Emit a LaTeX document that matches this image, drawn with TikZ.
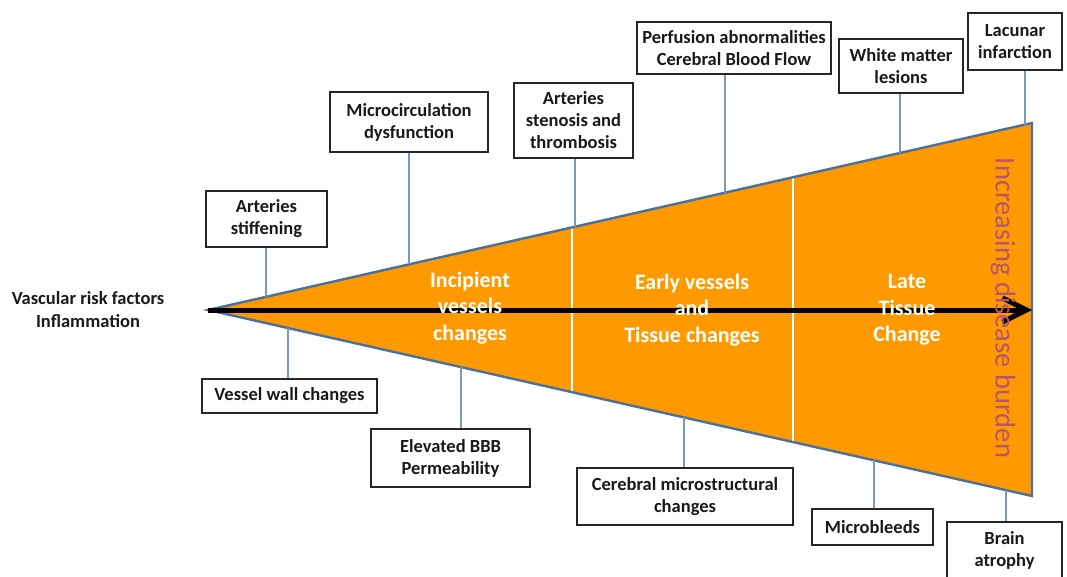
\documentclass[tikz,border=0pt]{standalone}
\usepackage{fontspec}
\setmainfont{Carlito}
\usetikzlibrary{calc,arrows.meta}
\definecolor{wedge}{RGB}{255,153,0}
\definecolor{wedgeedge}{RGB}{74,112,160}
\definecolor{connline}{RGB}{124,152,190}
\definecolor{burden}{RGB}{184,85,110}
\tikzset{
  labelbox/.style={draw=black!85, line width=1.1pt, fill=white, align=center,
    inner sep=0pt, text=black!90, font=\bfseries\fontsize{18.5}{22}\selectfont},
  conn/.style={draw=connline, line width=1.8pt},
  stage/.style={align=center, text=white, font=\bfseries\fontsize{22}{26.5}\selectfont},
  divider/.style={draw=white, line width=1.3pt}
}
\begin{document}
\begin{tikzpicture}[x=1pt,y=-1pt]
\useasboundingbox (0,0) rectangle (1067,577);
% wedge corners
\coordinate (A) at (208,310);
\coordinate (TR) at (1032,123);
\coordinate (BR) at (1032,496);
\coordinate (E) at (1032,310);
\fill[wedge] (A) -- (TR) -- (BR) -- cycle;
% stage dividers
\coordinate (d1t) at ($(A)!{(572-208)/824}!(TR)$);
\coordinate (d1b) at ($(A)!{(572-208)/824}!(BR)$);
\coordinate (d2t) at ($(A)!{(793-208)/824}!(TR)$);
\coordinate (d2b) at ($(A)!{(793-208)/824}!(BR)$);
\draw[divider] (d1t) -- (d1b);
\draw[divider] (d2t) -- (d2b);
\draw[wedgeedge, line width=2.4pt, line join=miter] (A) -- (TR) -- (BR) -- cycle;
% main arrow
\draw[line width=5pt, -{Straight Barb[length=24pt,width=24pt,line width=5pt]}] (A) -- (E);

% stage labels
\node[stage] (s1) at (470,308) {Incipient\\vessels\\changes};
\node[stage] (s2) at (692,310) {Early vessels\\and\\Tissue changes};
\node[stage] (s3) at (907,310) {Late\\Tissue\\Change};
\node[rotate=-90, text=burden, font=\fontsize{28.5}{32}\selectfont] (burden) at (1003,308) {Increasing disease burden};

\node[align=center, text=black!90, font=\bfseries\fontsize{18.5}{23}\selectfont] (risk) at (88,310) {Vascular risk factors\\Inflammation};

% upper labels
\node[labelbox, minimum width=121pt, minimum height=56pt] (stiff) at (266.5,219) {Arteries\\stiffening};
\node[labelbox, minimum width=158pt, minimum height=60pt] (micro) at (409,122) {Microcirculation\\dysfunction};
\node[labelbox, minimum width=119pt, minimum height=75pt] (sten) at (573.5,120.5) {Arteries\\stenosis and\\thrombosis};
\node[labelbox, minimum width=194pt, minimum height=52pt] (perf) at (734,48) {Perfusion abnormalities\\Cerebral Blood Flow};
\node[labelbox, minimum width=124pt, minimum height=54pt] (wml) at (901,66) {White matter\\lesions};
\node[labelbox, minimum width=94pt, minimum height=57pt] (lac) at (1015,41.5) {Lacunar\\infarction};

% lower labels
\node[labelbox, minimum width=175pt, minimum height=34pt] (vwall) at (289.5,396) {Vessel wall changes};
\node[labelbox, minimum width=159pt, minimum height=58pt] (bbb) at (450.5,458) {Elevated BBB\\Permeability};
\node[labelbox, minimum width=216pt, minimum height=57pt] (cmc) at (685,496.5) {Cerebral microstructural\\changes};
\node[labelbox, minimum width=121pt, minimum height=36pt] (mb) at (872.5,527) {Microbleeds};
\node[labelbox, minimum width=115pt, minimum height=56pt] (brain) at (1004.5,550) {Brain\\atrophy};

% anchor points on the wedge edges
\coordinate (u1) at ($(A)!{(266-208)/824}!(TR)$);
\coordinate (u2) at ($(A)!{(409-208)/824}!(TR)$);
\coordinate (u3) at ($(A)!{(575-208)/824}!(TR)$);
\coordinate (u4) at ($(A)!{(725-208)/824}!(TR)$);
\coordinate (u5) at ($(A)!{(900-208)/824}!(TR)$);
\coordinate (u6) at ($(A)!{(1025-208)/824}!(TR)$);
\coordinate (l1) at ($(A)!{(288-208)/824}!(BR)$);
\coordinate (l2) at ($(A)!{(461-208)/824}!(BR)$);
\coordinate (l3) at ($(A)!{(684-208)/824}!(BR)$);
\coordinate (l4) at ($(A)!{(874-208)/824}!(BR)$);
\coordinate (l5) at ($(A)!{(1006-208)/824}!(BR)$);

% connectors
\draw[conn] (stiff.south -| u1) -- (u1);
\draw[conn] (micro.south -| u2) -- (u2);
\draw[conn] (sten.south -| u3) -- (u3);
\draw[conn] (perf.south -| u4) -- (u4);
\draw[conn] (wml.south -| u5) -- (u5);
\draw[conn] (lac.south -| u6) -- (u6);
\draw[conn] (l1) -- (vwall.north -| l1);
\draw[conn] (l2) -- (bbb.north -| l2);
\draw[conn] (l3) -- (cmc.north -| l3);
\draw[conn] (l4) -- (mb.north -| l4);
\draw[conn] (l5) -- (brain.north -| l5);
\end{tikzpicture}
\end{document}
